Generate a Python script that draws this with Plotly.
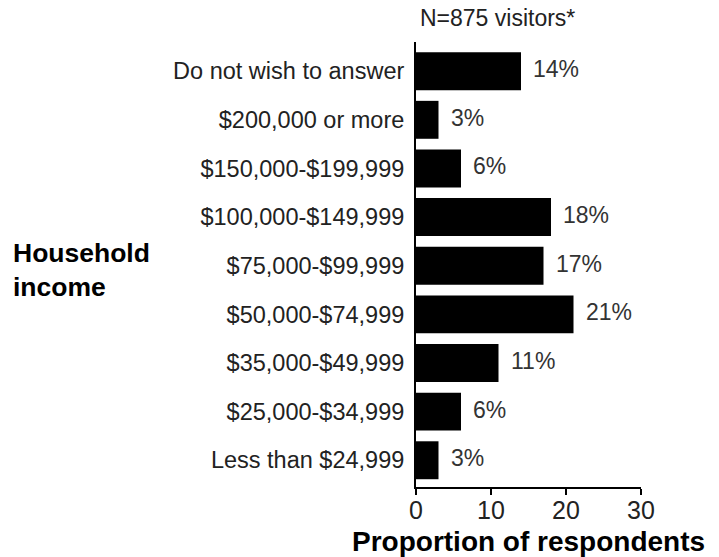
import plotly.graph_objects as go

categories = ["Less than $24,999", "$25,000-$34,999", "$35,000-$49,999", "$50,000-$74,999",
              "$75,000-$99,999", "$100,000-$149,999", "$150,000-$199,999", "$200,000 or more",
              "Do not wish to answer"]
values = [3, 6, 11, 21, 17, 18, 6, 3, 14]
x_ticks = [0, 10, 20, 30]

fig = go.Figure()
fig.add_trace(go.Bar(y=categories, x=values, orientation="h",
                     marker=dict(color="black", line=dict(width=0)), width=0.78))

for c, v in zip(categories, values):
    fig.add_annotation(x=v, y=c, text=f"{v}%", showarrow=False, xanchor="left",
                       xshift=10, yshift=2, font=dict(size=23, color="#333333"))

fig.add_annotation(xref="paper", yref="paper", x=0.01, y=1.0, yshift=24, xanchor="left",
                   yanchor="middle", text="N=875 visitors*", showarrow=False,
                   font=dict(size=23, color="#222222"))
fig.add_annotation(xref="paper", yref="paper", x=-1.80, y=0.488, xanchor="left",
                   yanchor="middle", align="left", text="<b>Household<br>income</b>",
                   showarrow=False, font=dict(size=26.5, color="black"))
fig.add_annotation(xref="paper", yref="paper", x=0.498, y=0.0, yshift=-54, xanchor="center",
                   yanchor="middle", text="<b>Proportion of respondents</b>",
                   showarrow=False, font=dict(size=28, color="black"))

fig.update_layout(
    width=719, height=557,
    margin=dict(l=416, r=78, t=42, b=70),
    plot_bgcolor="white", paper_bgcolor="white",
    font=dict(family="Liberation Sans, Arial, sans-serif", color="black"),
    showlegend=False,
    xaxis=dict(range=[0, 30], tickvals=x_ticks, showgrid=False, zeroline=False,
               showline=True, linecolor="black", linewidth=2, ticks="outside",
               ticklen=6, tickwidth=2, tickcolor="black", automargin=False,
               ticklabelstandoff=-6,
               tickfont=dict(size=25, color="#222222")),
    yaxis=dict(categoryorder="array", categoryarray=categories, range=[-0.55, 8.6],
               showgrid=False, zeroline=False, showline=True, linecolor="black",
               linewidth=2, ticks="", ticklabelstandoff=5, automargin=False,
               tickfont=dict(size=23.5, color="#222222")),
)

fig.write_html("out.html", config={"displayModeBar": False},
               post_script="document.body.style.margin='0';")
